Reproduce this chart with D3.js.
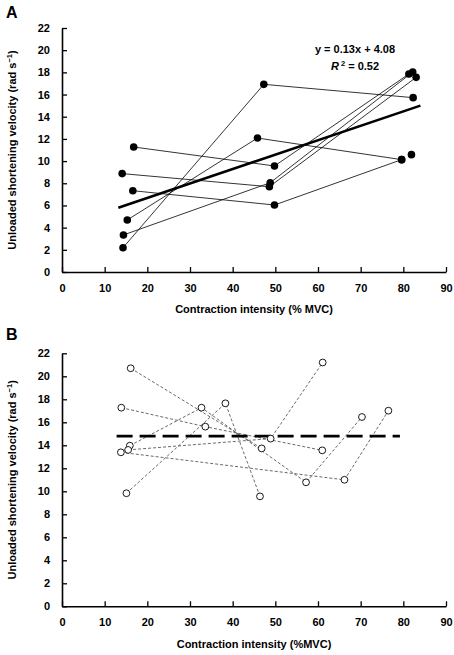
<!DOCTYPE html>
<html><head><meta charset="utf-8">
<script src="https://cdn.jsdelivr.net/npm/d3@7"></script>
<style>
body{margin:0;background:#fff;}
svg{display:block;}
text{font-family:"Liberation Sans",Arial,sans-serif;font-weight:bold;fill:#000;}
</style></head>
<body><svg id="c" width="454" height="655"></svg>
<script>
// ---------- data ----------
const xTickValues = [0,10,20,30,40,50,60,70,80,90];
const yTickValues = [0,2,4,6,8,10,12,14,16,18,20,22];
const xTitle = "Contraction intensity (%MVC)";
const xTitleA = "Contraction intensity (% MVC)";

// Panel A: each subject = [intensity %MVC, velocity rad/s] points
const aSubject1 = [[14.3,2.19],[47.3,16.92],[82.3,15.72]];
const aSubject2 = [[16.8,11.27],[49.8,9.56],[81.3,17.85]];
const aSubject3 = [[14.1,8.87],[48.6,7.69],[83.0,17.55]];
const aSubject4 = [[14.4,3.34],[48.8,8.05],[82.2,18.03]];
const aSubject5 = [[16.6,7.33],[49.8,6.04],[79.6,10.13]];
const aSubject6 = [[15.3,4.69],[45.8,12.08],[79.6,10.13]];
const aExtraPoints = [[81.9,10.58]];
const aSlope = 0.13, aIntercept = 4.08, aFitRange = [13.2,84.0];

// Panel B
const bSubject1 = [[16.1,20.7],[46.8,13.73]];
const bSubject2 = [[13.9,17.27],[33.6,15.62],[61.0,13.56]];
const bSubject3 = [[15.9,13.97],[32.7,17.27],[57.2,10.78],[70.3,16.46]];
const bSubject4 = [[15.1,9.83],[38.3,17.65],[46.4,9.56]];
const bSubject5 = [[15.5,13.6],[48.9,14.58],[61.1,21.2]];
const bSubject6 = [[13.8,13.39],[66.2,11.0],[76.5,17.01]];
const bMean = 14.8, bMeanRange = [12.8,79.2];

const aSubjects = [aSubject1,aSubject2,aSubject3,aSubject4,aSubject5,aSubject6];
const bSubjects = [bSubject1,bSubject2,bSubject3,bSubject4,bSubject5,bSubject6];

// ---------- drawing ----------
const svg = d3.select("#c");
const x = d3.scaleLinear().domain([0,90]).range([62,446]);
const yA = d3.scaleLinear().domain([0,22]).range([272,28]);
const yB = d3.scaleLinear().domain([0,22]).range([606.3,353.3]);

function axes(y, yTop, xTitleText, titleY){
  const bottom = y(0);
  const gx = svg.append("g").attr("transform",`translate(0,${bottom})`)
    .call(d3.axisBottom(x).tickValues(xTickValues).tickSizeInner(-5).tickSizeOuter(0).tickPadding(12).tickFormat(d3.format("d")));
  const gy = svg.append("g").attr("transform",`translate(${x(0)},0)`)
    .call(d3.axisLeft(y).tickValues(yTickValues).tickSizeInner(-5).tickSizeOuter(0).tickPadding(12).tickFormat(d3.format("d")));
  [gx,gy].forEach(g=>{
    g.select(".domain").attr("stroke","#000").attr("stroke-width",1.6);
    g.selectAll(".tick line").attr("stroke","#000").attr("stroke-width",1.3);
    g.selectAll(".tick text").attr("font-size",11).attr("font-family","Liberation Sans, Arial").attr("font-weight","bold");
  });
  svg.append("text").attr("x",254).attr("y",titleY).attr("text-anchor","middle").attr("font-size",11).text(xTitleText);
  const cy = (y(0)+y(22))/2;
  const t = svg.append("text").attr("transform",`translate(16,${cy}) rotate(-90)`).attr("text-anchor","middle").attr("font-size",11);
  t.append("tspan").text("Unloaded shortening velocity (rad s");
  t.append("tspan").attr("font-size",7.5).attr("dy",-4).text("\u22121");
  t.append("tspan").attr("dy",4).text(")");
}

axes(yA, 28, xTitleA, 313);
axes(yB, 353, xTitle, 648);

// Panel labels
svg.append("text").attr("x",6).attr("y",18).attr("font-size",16).text("A");
svg.append("text").attr("x",6).attr("y",340).attr("font-size",16).text("B");

// Panel A lines
const lineA = d3.line().x(d=>x(d[0])).y(d=>yA(d[1]));
svg.append("g").selectAll("path").data(aSubjects).join("path")
  .attr("d",lineA).attr("fill","none").attr("stroke","#000").attr("stroke-width",0.8);
// regression
svg.append("path").attr("d",lineA(aFitRange.map(v=>[v,aSlope*v+aIntercept])))
  .attr("fill","none").attr("stroke","#000").attr("stroke-width",2.6);
svg.append("g").selectAll("circle").data(aSubjects.flat().concat(aExtraPoints)).join("circle")
  .attr("cx",d=>x(d[0])).attr("cy",d=>yA(d[1])).attr("r",3.8).attr("fill","#000");
// equation
svg.append("text").attr("x",355).attr("y",53).attr("text-anchor","middle").attr("font-size",11)
  .text(`y = ${aSlope.toFixed(2)}x + ${aIntercept.toFixed(2)}`);
const r2 = svg.append("text").attr("x",355).attr("y",70).attr("text-anchor","middle").attr("font-size",11);
r2.append("tspan").attr("font-style","italic").text("R");
r2.append("tspan").attr("font-size",7.5).attr("dy",-4).text(" 2");
r2.append("tspan").attr("dy",4).text(" = 0.52");

// Panel B
const lineB = d3.line().x(d=>x(d[0])).y(d=>yB(d[1]));
svg.append("g").selectAll("path").data(bSubjects).join("path")
  .attr("d",lineB).attr("fill","none").attr("stroke","#444").attr("stroke-width",0.8).attr("stroke-dasharray","3,2");
svg.append("path").attr("d",lineB(bMeanRange.map(v=>[v,bMean])))
  .attr("fill","none").attr("stroke","#000").attr("stroke-width",2.6).attr("stroke-dasharray","16,7");
svg.append("g").selectAll("circle").data(bSubjects.flat()).join("circle")
  .attr("cx",d=>x(d[0])).attr("cy",d=>yB(d[1])).attr("r",3.4).attr("fill","#fff").attr("stroke","#000").attr("stroke-width",0.9);
</script></body></html>
